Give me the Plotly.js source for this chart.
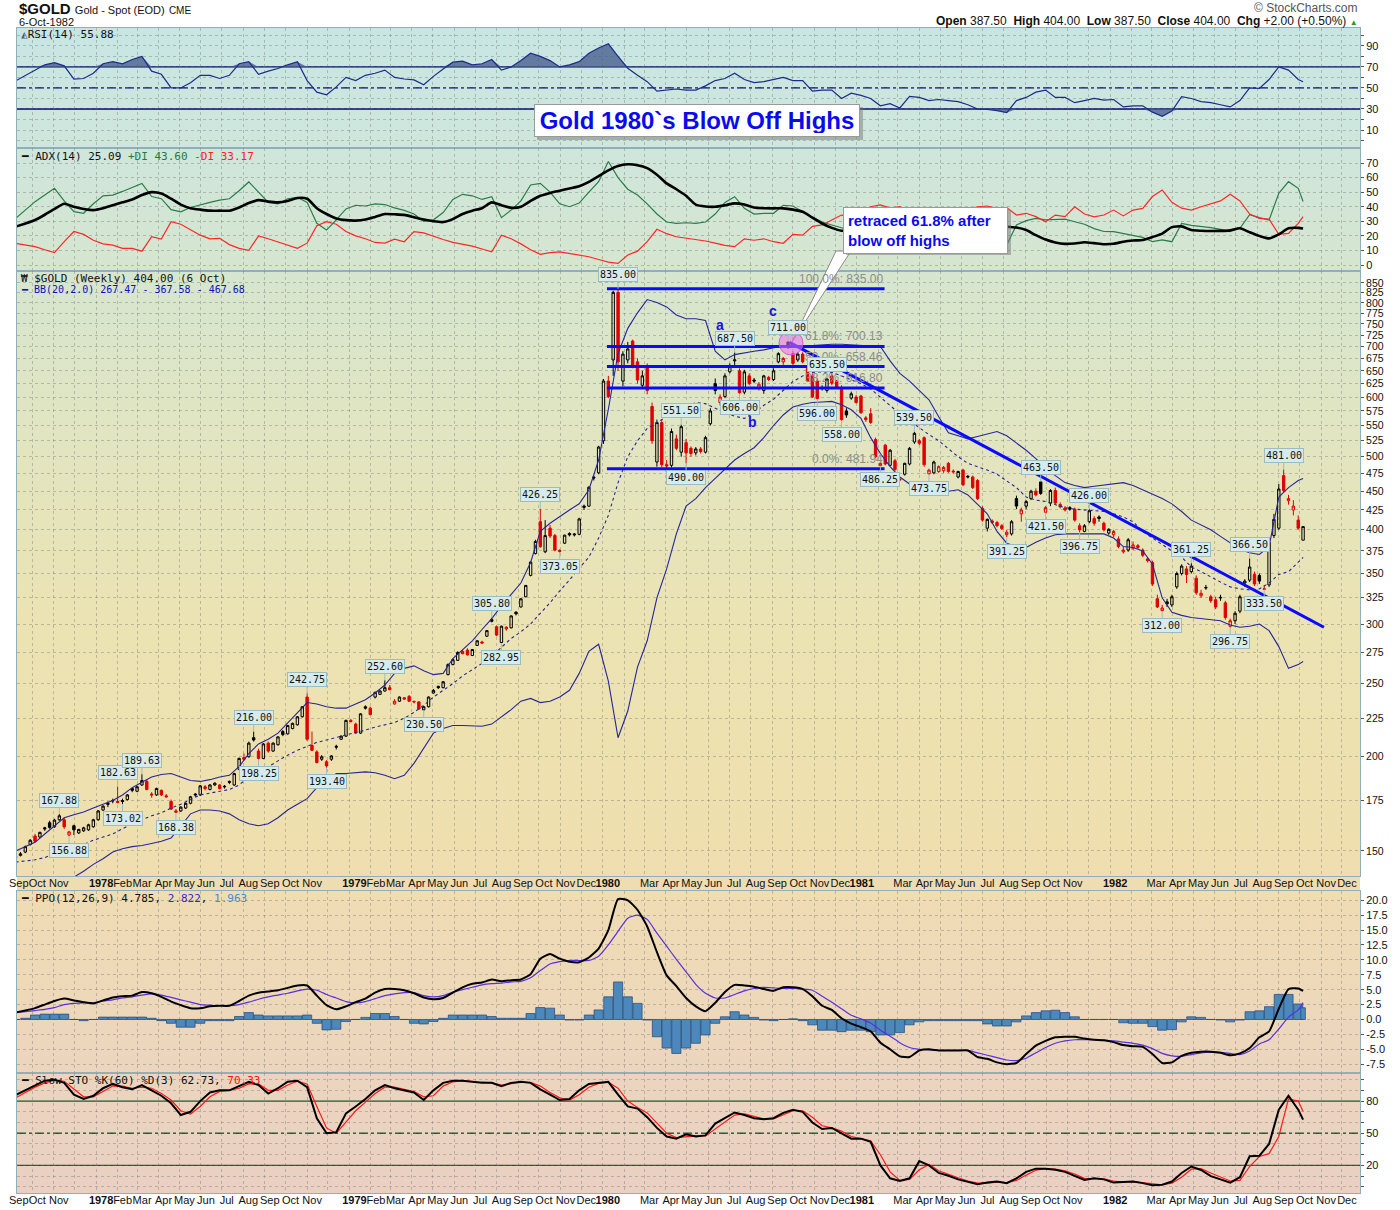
<!DOCTYPE html>
<html><head><meta charset="utf-8">
<script src="https://cdn.plot.ly/plotly-3.0.1.min.js"></script>
<style>
body{margin:0;background:#fff;}
#wrap{position:relative;width:1400px;height:1210px;overflow:hidden;}
#bg{position:absolute;left:17px;top:28px;width:1343px;height:1165px;
background:linear-gradient(to bottom,#c7e6e3 0%,#cfe6dc 10.3%,#d6e6cf 20.9%,#e2e5c0 36%,#ece3b2 52%,#efdfae 70%,#efdcb4 75.3%,#ecd5be 89.6%,#e9d0c3 100%);}
#chart{position:absolute;left:0;top:0;width:1400px;height:1210px;}
</style></head><body>
<div id="wrap"><div id="bg"></div><div id="chart"></div></div>
<script>
// ---------- weekly candles [open, high, low, close], first bar week of 1977-09-07 ----------
const ohlc1977 = [
[147.0,148.5,146.5,147.5],[148.0,149.5,147.5,148.7],[149.5,152.5,149.0,152.0],[153.0,155.5,152.5,155.0],
[157.0,158.0,154.0,154.5],[156.5,159.0,156.0,158.8],[161.0,161.5,159.5,160.5],[163.5,164.5,160.5,161.2],
[161.5,165.5,161.0,164.8],[165.0,167.88,164.5,167.0],[165.0,166.0,160.5,161.5],[157.5,159.5,156.88,159.0],
[162.0,162.5,157.5,160.0],[158.5,160.5,158.0,160.2],[159.5,161.5,159.0,161.0],[160.0,163.0,159.5,162.5],
[161.5,165.5,161.0,165.0]];
const ohlc1978 = [
[165.0,170.0,164.5,169.5],[170.0,172.5,169.5,172.0],[173.5,174.5,171.5,173.0],[175.0,176.0,173.5,174.8],
[174.5,182.63,173.5,174.0],[175.0,176.0,173.02,174.5],[175.5,178.5,175.0,178.0],[181.5,182.0,179.5,180.5],
[180.0,183.0,179.5,182.5],[183.5,189.63,183.0,186.0],[185.5,186.5,180.5,181.0],[178.5,179.5,176.5,178.0],
[178.0,182.0,177.5,181.5],[180.5,181.0,177.5,178.0],[177.5,178.5,176.5,177.0],[174.5,175.5,170.0,170.5],
[168.8,170.5,168.38,169.5],[169.5,172.0,169.0,171.5],[171.0,174.0,170.5,173.5],[173.5,177.5,173.0,177.0],
[178.5,179.0,177.0,178.0],[178.0,183.5,177.5,183.0],[182.5,183.5,180.5,181.5],[181.0,184.0,180.5,183.5],
[183.5,185.0,183.0,184.5],[183.5,184.0,181.0,181.5],[182.8,183.5,181.5,182.5],[185.5,186.0,184.0,185.0],
[183.5,190.5,183.0,190.0],[192.5,199.5,192.0,199.0],[199.5,202.0,197.5,198.5],[200.0,209.5,199.5,208.5],
[212.0,216.0,209.5,210.5],[203.5,205.0,198.25,199.0],[199.0,208.5,198.5,208.0],[208.5,209.5,202.5,203.5],
[203.5,209.0,203.0,208.5],[207.5,213.0,207.0,212.5],[216.0,217.0,213.0,214.0],[214.5,220.5,214.0,220.0],
[218.0,222.0,217.5,221.5],[220.5,226.5,220.0,226.0],[226.0,233.5,225.5,233.0],[240.0,242.75,210.0,211.0],
[207.0,216.0,203.5,204.0],[203.0,204.0,196.0,196.5],[198.5,201.0,197.5,200.0],[197.0,198.0,193.40,194.5],
[198.5,201.0,197.5,200.5],[206.5,207.5,204.5,206.0],[211.0,213.5,210.5,213.0],[213.0,224.0,212.5,223.5]];
const ohlc1979 = [
[223.5,224.5,222.0,222.8],[221.0,222.0,214.5,215.0],[215.0,228.5,214.5,228.0],[233.0,234.0,231.0,232.0],
[232.0,233.0,227.0,227.5],[240.0,244.0,239.0,243.5],[242.0,245.0,241.5,244.5],[244.5,252.60,244.0,247.0],
[247.0,249.0,245.0,245.5],[235.0,238.5,234.5,237.0],[237.0,240.5,236.5,240.0],[239.5,240.0,238.0,238.5],
[240.5,241.5,236.5,237.0],[236.8,237.5,235.5,236.5],[236.5,237.0,231.0,231.5],[230.8,233.5,230.50,233.0],
[233.0,240.5,232.5,240.0],[243.0,246.0,242.5,245.0],[248.0,248.5,246.0,247.0],[247.0,252.0,246.5,251.5],
[257.0,266.0,256.5,265.0],[265.0,270.0,264.5,269.0],[268.5,276.0,268.0,275.0],[276.0,277.0,273.5,274.0],
[277.0,278.5,272.5,273.0],[272.5,278.0,272.0,277.5],[281.0,285.5,280.5,285.0],[284.0,285.0,282.5,283.0],
[289.0,294.5,288.5,294.0],[304.0,305.80,301.5,302.5],[297.5,298.5,289.0,290.0],[283.5,298.5,282.95,298.0],
[295.5,298.0,294.0,297.0],[296.5,308.0,296.0,307.5],[311.0,312.0,308.0,309.5],[316.0,324.5,315.5,324.0],
[326.0,338.0,325.5,337.5],[348.0,363.0,347.0,362.5],[372.0,388.0,371.0,386.0],[410.0,426.25,378.5,380.0],
[374.0,412.0,372.5,393.0],[402.0,406.0,390.0,392.5],[393.0,395.0,374.5,376.0],[375.5,377.0,373.05,374.5],
[384.0,394.0,383.0,393.5],[395.5,397.0,392.0,393.8],[395.0,396.0,392.0,394.0],[394.5,415.0,393.5,413.5],
[430.0,432.0,425.0,428.5],[430.0,457.0,429.0,455.5],[470.0,472.0,465.0,468.5],[476.0,517.0,474.0,515.0]];
const ohlc1980 = [
[525.0,634.0,520.0,630.0],[630.0,640.0,598.0,601.0],[672.0,830.0,640.0,826.0],[826.0,835.0,650.0,668.0],
[630.0,690.0,620.0,684.0],[672.0,710.0,665.0,695.0],[712.0,715.0,655.0,660.0],[668.0,675.0,625.0,632.0],
[622.0,650.0,615.0,640.0],[658.0,665.0,605.0,612.0],[583.0,590.0,520.0,525.0],[492.0,560.0,485.0,555.0],
[555.0,560.0,484.0,488.0],[488.0,495.0,482.0,486.0],[487.0,545.0,484.0,540.0],[528.0,535.0,510.0,513.0],
[507.0,551.50,500.0,548.0],[522.0,528.0,490.0,506.0],[513.0,516.0,500.0,505.0],[506.0,515.0,502.0,512.0],
[512.0,515.0,505.0,508.0],[507.0,533.0,505.0,530.0],[553.0,580.0,550.0,575.0],[625.0,635.0,605.0,612.0],
[590.0,605.0,585.0,600.0],[601.0,645.0,598.0,640.0],[648.0,665.0,645.0,660.0],[670.0,687.50,660.0,672.0],
[650.0,655.0,606.0,608.0],[609.0,652.0,605.0,648.0],[640.0,645.0,622.0,625.0],[632.0,636.0,626.0,630.0],
[618.0,628.0,612.0,624.0],[612.0,642.0,606.0,640.0],[637.0,640.0,630.0,633.0],[633.0,655.0,630.0,650.0],
[668.0,688.0,665.0,685.0],[668.0,678.0,662.0,675.0],[710.0,711.0,695.0,703.0],[685.0,690.0,660.0,665.0],
[672.0,688.0,668.0,684.0],[684.0,688.0,665.0,668.0],[655.0,658.0,628.0,630.0],[640.0,645.0,598.0,600.0],
[630.0,635.0,596.0,597.0],[616.0,622.0,612.0,617.0],[612.0,635.50,608.0,634.0],[640.0,645.0,622.0,626.0],
[630.0,632.0,615.0,618.0],[618.0,622.0,558.0,560.0],[575.0,580.0,563.0,568.0],[598.0,610.0,595.0,606.0],
[600.0,604.0,588.0,590.0]];
const ohlc1981 = [
[602.0,604.0,570.0,572.0],[563.0,566.0,556.0,560.0],[570.0,580.0,553.0,555.0],[527.0,530.0,498.0,500.0],
[486.5,492.0,486.25,490.0],[518.0,520.0,487.0,489.0],[487.0,512.0,487.0,510.0],[494.0,497.0,479.0,481.0],
[467.0,469.0,464.0,466.0],[474.0,491.0,472.0,490.0],[489.0,515.0,487.0,513.0],[523.0,539.50,520.0,537.0],
[525.0,528.0,518.0,521.0],[530.0,532.0,485.0,488.0],[474.5,482.0,473.75,480.0],[476.0,494.0,474.0,492.0],
[478.0,487.0,476.0,485.0],[479.0,486.0,476.0,484.0],[490.0,492.0,476.0,478.0],[478.5,481.0,475.0,477.5],
[470.0,479.0,468.0,478.0],[480.0,482.0,457.0,459.0],[471.0,473.0,468.0,470.0],[470.0,472.0,453.0,455.0],
[465.0,467.0,438.0,440.0],[427.0,430.0,410.0,412.0],[402.0,414.0,398.0,413.0],[411.0,413.0,407.0,409.0],
[409.0,411.0,403.0,405.0],[405.0,407.0,400.0,401.5],[394.0,400.0,391.25,397.0],[395.0,412.0,393.0,410.0],
[440.0,444.0,426.0,430.0],[420.0,428.0,410.0,425.0],[430.0,438.0,426.0,436.0],[440.0,452.0,438.0,450.0],
[450.0,454.0,443.0,445.0],[463.0,463.50,445.0,447.0],[422.0,430.0,421.50,428.0],[434.0,453.0,430.0,451.0],
[451.0,455.0,432.0,434.0],[432.0,435.0,427.0,429.0],[427.5,430.0,423.0,425.0],[428.0,430.0,424.0,426.0],
[426.0,428.0,410.0,412.0],[405.0,408.0,396.75,400.0],[398.0,407.0,397.0,405.0],[410.0,426.0,408.0,424.0],
[414.0,417.0,405.0,408.0],[416.0,418.0,410.0,414.0],[408.0,410.0,398.0,400.0],[396.0,402.0,394.0,400.5]];
const ohlc1982 = [
[394.0,400.0,391.0,398.0],[389.0,392.0,378.0,380.0],[374.0,380.0,372.0,376.0],[376.0,390.0,374.0,388.0],
[378.0,386.0,376.0,382.0],[381.0,383.0,377.0,379.0],[376.0,378.0,368.0,370.0],[366.0,368.0,362.0,364.0],
[362.0,364.0,337.0,339.0],[324.0,328.0,315.0,316.0],[312.5,318.0,312.0,315.0],[321.0,324.0,316.0,319.0],
[318.0,328.0,316.0,326.0],[336.0,352.0,334.0,350.0],[350.0,360.0,348.0,358.0],[355.0,358.0,340.0,349.0],
[352.0,361.25,350.0,358.0],[345.0,348.0,328.0,330.0],[327.0,333.0,325.0,329.5],[335.5,338.0,333.0,335.0],
[326.0,328.0,320.0,322.0],[323.0,326.0,314.0,316.0],[325.5,328.0,322.0,325.0],[320.0,322.0,304.0,306.0],
[298.0,305.0,296.75,303.0],[303.0,312.0,300.0,310.0],[312.0,328.0,310.0,326.0],[340.0,344.0,336.0,342.0],
[343.0,366.50,341.0,357.0],[349.0,352.0,337.0,339.0],[348.0,350.0,339.0,342.0],[333.5,338.0,333.5,334.0],
[338.0,390.0,336.0,385.0],[393.0,420.0,390.0,413.0],[402.0,460.0,400.0,453.0],[472.0,481.0,449.0,451.0],
[437.0,445.0,432.0,440.0],[425.0,438.0,418.0,430.0],[412.0,418.0,400.0,402.0],[387.5,404.0,387.5,404.0]];

// ---------- indicators, read every 2nd week (weeks 0,2,...,264) plus the last week 265 ----------
const bbUpper = [150,152,154,158,162,166,167.5,169,171,173,
175,178,182,185,188,189.5,190,188,186,185.5,
186.5,188,189,194,202,208,211,215,222,229,
236,235,233,232,232,235,238,243,249,258,
262,264,260,257,258,270,277,285,295,305,
317,328,340,362,398,408,417,425,433,452,
495,578,685,740,776,808,801,790,771,762,
762,758,690,672,683,687,690,693,697,702,
701,700,702,704,705,705,704,702,701,700,
670,645,630,612,595,565,538,533,528,532,
536,540,533,522,510,497,483,472,462,458,
455,457,459,461,462,458,452,446,440,433,
423,412,406,400,392,384,377,373,371,380,
442,455,465,467.68];
const bbMiddle = [145,145.5,146,147,149,150.5,151.5,153,155,156.5,
158,160.5,163,165,167,168.5,171,173,175.5,178,
179,179.8,181,183.5,188,191.5,194,197.5,201,204,
206.5,209,210.5,212,213.5,215,217,219,220.5,222,
225,229,234,240,245,250,256,261,266,272,
279,287,293,300,310,320,332,343,356,368,
390,418,462,500,525,545,555,565,575,583,
590,588,580,572,566,562,572,585,596,612,
629,640,647,648,647,640,632,625,615,600,
585,570,558,546,535,525,512,500,490,485,
480,474,464,455,442,438,436,432,428,426,
425,424,423,420,416,410,398,390,382,375,
368,357,352,346,341,336,334,333,334,340,
349,352,363,367.58];
const bbLower = [130,131,132,133,134.5,136,138.5,141,144,146.5,
149.5,151,152,152.5,153.5,154.5,156,162,168,170,
170,169.5,168,165,163,162,163,166,170,173,
176,182,186,190,190,190.5,191,190.5,189,187,
189,196,205,215,218,220,220,220,219.5,221,
226,231,237,239,236,237,240,245,258,276,
282,252,212,230,263,285,325,355,395,430,
440,455,468,482,495,505,514,530,550,568,
582,587,590,591,592,586,577,562,530,505,
485,470,460,452,448,448,450,452,445,432,
420,398,384,380,379,385,390,394,395,395,
395,395,395,390,380,379,375,360,325,311,
308,306,305,304,303,299,297,298,300,294,
280,262,265,267.47];
const rsi14 = [56.7,62,67,72,74,71,58.5,59,64,73,
75,73,77,80,66,63,50,50,55,62,
62,59,62,73,75,63,66,68.5,72,75,
57,46,43.5,51,60,57,62,64,67,60,
58.5,57.6,53,61,68,74.5,75.5,72,73,77,
67,70,76,83,80,76,70,72,75,83,
88,92,80,68.7,62,56,47,48,49,48,
48,52,57,59,64,58,55,56,58,60,
57,57,47,48,48,40,45,43,40,33,
35,31,42,41,38,39,38,37,34,30,
29.5,28.5,26.5,38,41,46,48,41,41,36,
38,40,38.5,39,32,33,33,27,23,28,
41.7,40,37,36,34,32,38,50,49.5,58,
70,67,58,55.88];
const adx14 = [26.3,28.5,30.9,34.5,38.5,42,40,38.5,37.7,39,
41,43,45,48,50,49,45.5,41.5,39,38,
37.3,37.3,37.3,39.5,42.5,44.5,43.5,43,44,46,
45.5,39,35,32,30.8,30.5,31.2,33,35,34.8,
34.4,32.8,31.2,30,29.5,31.5,35,37.3,39,43,
41,39.3,40,44,47.5,49.5,51,52.5,54,57,
61,65,68,69.1,68.5,66.5,62,56,52,47.5,
41.5,40.2,40,41,42.3,41.5,39.5,39,38.9,38.9,
38,36.5,32.5,28.5,25.5,23.5,23.5,24,25.5,27,
28,28.5,28.5,28,27.5,27.5,27,27,27,26.8,
26.6,26.5,26.3,25.7,24,20.5,17.5,15.5,14.5,14.8,
15.6,15,14.3,14.6,16,16.8,17.2,19.2,21.5,26,
26.5,24,23.5,23.3,23.4,23.8,25.2,22.5,20,18.3,
21,25.2,25.5,25.09];
const plusDI = [32,38,43.5,48,52.6,44,36.6,35.5,42,47.5,
48,50.5,53.5,56,47,45.5,38,36.5,39.5,41.5,
43,44.5,45.5,51,57,50,43,42,45.5,46.5,
43,28.6,24,31,38.5,41,40.5,42,41.5,39.2,
37.5,35,30,31,36,45,48.5,47.5,45,46.9,
32.5,37.7,44,54.9,56,50,42,40,42.5,50,
57.2,71,60,52,48,42,35,29.5,28.6,29,
28.6,29.5,35,43,46.9,38.9,35,35.5,35.5,41,
40.5,36.6,33,29.5,27.5,25.6,24,22,20,18,
19,17.5,22,21,20,19.5,20,19,17.5,16,
15.5,14.5,13.7,27.5,30.5,32,31,31,31.5,29.7,
28,25,23,22.9,21.5,20,19,16,17.2,16,
28.5,27.2,26.5,25.7,24.5,22.9,25.2,34.5,32.5,30.9,
49.2,57.2,52.6,43.6];
const minusDI = [14.9,13.8,12.6,10.5,8.5,16,23,21,17,14.5,
13.7,11.4,11.4,9.5,19.4,17.8,29.7,28,24,20.5,
18,18.3,14,11.4,10,20,18,16,13.7,11.5,
15,27,29.7,28,23,20,18,15.5,15,17.8,
16,22.9,22,19.5,17.5,15.5,14.2,13,11,9.1,
20.5,18,14.5,10.5,7.3,8.5,9,8,7,5.7,
3.8,2.0,1.1,6.9,9.5,16,24.5,21.5,19.4,18.5,
17.8,16.5,15,13.5,12.6,18,17,18,16,14.9,
21,20.5,26.5,27.5,30.9,34.3,33.2,36,40,41.2,
39,40,35,33,36,35,37,36,38,40,
40.5,38.9,39.4,34.3,35.5,33.2,29.7,34.3,33.2,40,
35,33,34.3,37.7,33.7,37.7,38.9,47,51.5,43,
39,37.7,40,42,44,48.5,44,35,32,31.5,
21,21.7,28.6,33.17];
const ppoLine = [1.15,1.5,1.9,2.5,3.1,3.5,3.2,2.9,2.7,3.2,
3.7,3.9,4.0,4.6,4.4,3.8,3.0,2.4,1.9,1.9,
2.2,2.3,2.3,3.1,4.0,4.5,4.7,4.9,5.3,5.7,
5.7,4.0,2.4,1.7,2.2,2.9,3.5,4.5,5.1,5.1,
4.9,4.4,3.7,3.4,3.6,4.5,5.4,6.0,6.2,6.7,
6.4,6.6,6.7,7.6,10.2,11.0,10.2,9.7,9.6,10.4,
11.9,15.0,20.2,20.0,18.4,15.6,11.3,7.4,5.6,3.6,
2.2,1.4,2.8,4.6,5.8,5.7,5.5,5.1,4.8,5.4,
5.4,5.1,3.9,2.3,1.6,0.2,-0.7,-1.3,-2.0,-3.9,
-5.0,-6.2,-6.3,-5.2,-5.0,-5.2,-5.2,-5.2,-5.2,-6.3,
-6.6,-7.2,-7.5,-7.3,-5.8,-4.4,-3.6,-3.0,-2.9,-2.9,
-3.2,-3.4,-3.5,-3.8,-4.3,-4.5,-4.6,-5.8,-7.3,-7.2,
-6.1,-5.6,-5.4,-5.4,-5.6,-6.0,-5.7,-4.8,-3.0,-2.0,
1.8,5.1,5.2,4.785];
const ppoSignal = [1.15,1.3,1.5,1.7,2.0,2.5,2.7,2.8,2.8,3.1,
3.3,3.6,3.8,4.1,4.3,4.1,3.7,3.3,2.9,2.5,
2.4,2.3,2.3,2.5,2.9,3.4,3.8,4.1,4.4,4.8,
5.1,4.9,4.2,3.6,3.0,2.8,3.0,3.5,4.0,4.3,
4.5,4.5,4.0,3.8,4.0,4.6,5.0,5.4,5.8,6.0,
6.1,6.3,6.4,7.0,8.2,9.3,9.7,9.9,9.9,9.9,
10.6,12.5,14.8,17.0,17.5,16.8,14.5,12.3,10.1,8.0,
5.9,4.4,3.6,3.6,4.2,4.8,5.2,5.4,5.3,5.2,
5.2,5.1,4.9,3.9,2.9,1.8,0.7,0.1,-0.6,-1.8,
-2.8,-3.9,-4.7,-5.0,-5.1,-5.2,-5.2,-5.2,-5.2,-5.6,
-6.0,-6.4,-6.8,-6.9,-6.5,-5.6,-4.7,-4.0,-3.6,-3.4,
-3.4,-3.4,-3.5,-3.6,-3.8,-4.0,-4.3,-4.9,-5.7,-6.1,
-6.2,-5.9,-5.6,-5.5,-5.5,-5.7,-5.9,-5.3,-4.1,-3.4,
-1.6,0.4,1.6,2.822];
const ppoHist = [0,0.2,0.75,0.9,0.9,0.9,0,-0.2,0,0.4,
0.4,0.4,0.4,0.4,0.2,-0.2,-0.65,-1.3,-1.3,-0.65,
-0.2,-0.2,-0.2,0.5,1.15,0.75,0.6,0.6,0.6,0.6,
0.75,-0.65,-1.75,-1.65,-0.35,0,0.35,1.0,1.0,0.5,
0,-0.65,-0.75,-0.35,0.2,0.75,0.75,0.75,0.75,0.5,
0.2,0.2,0.2,1.0,2.0,1.9,0.75,-0.1,-0.1,0.75,
1.6,3.8,6.3,3.8,2.7,-0.1,-2.9,-4.8,-5.7,-4.8,
-4.0,-2.6,-0.65,0.45,1.3,0.75,0.35,-0.1,-0.2,0,
0.1,-0.2,-0.9,-1.8,-1.8,-2.05,-1.8,-1.8,-2.05,-2.6,
-2.6,-2.2,-0.9,-0.4,-0.2,-0.2,-0.2,-0.2,-0.2,-0.2,
-0.75,-1.1,-1.1,-0.4,0.6,1.15,1.45,1.55,1.15,0.45,
0,0,0,0,-0.55,-0.65,-0.65,-1.2,-1.8,-1.7,
-0.4,0.45,0.35,0,-0.1,-0.4,-0.1,1.3,1.45,2.15,
4.2,4.2,2.6,1.963];
const stoK = [85.7,90,95,99,100,97,86,82,85,92,
96,93,91,95,90,85,78,67,70,80,
88,90,90,94,98,95,87,92,98,99,
93,64,50,51,68.6,75,82,90,95,92,
90,88,81,90,97,99,99,98,97,97,
94,97,98,97,91,86,81,82,90,96,
97,98,86,75,73,65,55,47,45,49,
47,48,59,64,69.4,67,64,63,64,69,
72,70,60,54,55,50,45,45,42,20,
8,5.5,8,24,20,13,10.4,7,4.5,2.5,
4,5,3.5,8,14,17,17,16,14,10,
6.5,8,7,4,4.5,5,3.5,1.5,2,5,
13,19,15.8,10,7,4,9,28.5,29,40,
72,85,72,62.73];
const stoD = [83,88,93,97,99.5,98.5,91,84,84,89,
94,94,92,93,92,87,81,71,68,75,
84,89,90,92,96,96,90,90,95,98.5,
96,75,55,50,60,71,79,87,93,93,
91,89,84,85,94,98,99,98.5,97.5,97,
95,96,97.5,97.5,94,88,83,81,86,93,
96.5,97.5,92,80,74,69,59,50,46,47,
47.5,47.5,54,61,67,68,65.5,63.5,63.5,67,
71,71,65,57,55,52,47,45,43,30,
14,6,7,16,21,15,11.5,8.5,5.5,3.5,
3.5,4.5,4,6,11,15.5,17,16.5,15,12,
8,7.5,7.5,5.5,4.5,5,4,2.5,2,3.5,
9,16.5,17,13,9,5.5,6,19,28.3,31,
47,82,80,70.33];

// ---------- chart annotations data ----------
const priceLabels = [[9,167.88,'h'],[11,156.88,'l'],[21,182.63,'h'],[22,173.02,'l'],[26,189.63,'h'],[33,168.38,'l'],
[49,216.00,'h'],[50,198.25,'l'],[60,242.75,'h'],[64,193.40,'l'],[76,252.60,'h'],[84,230.50,'l'],
[98,305.80,'h'],[100,282.95,'l'],[108,426.25,'h'],[112,373.05,'l'],[124,835.00,'h'],[138,490.00,'l'],
[137,551.50,'h'],[148,687.50,'h'],[149,606.00,'l'],[159,711.00,'h'],[167,635.50,'h'],[165,596.00,'l'],
[170,558.00,'l'],[185,539.50,'h'],[178,486.25,'l'],[188,473.75,'l'],[211,463.50,'h'],[204,391.25,'l'],
[212,421.50,'l'],[221,426.00,'h'],[219,396.75,'l'],[242,361.25,'h'],[236,312.00,'l'],[250,296.75,'l'],
[254,366.50,'h'],[257,333.50,'l'],[261,481.00,'h']];
const fibLevels = [835.00, 700.13, 658.46, 616.80, 481.94];
const fibNames = ['100.0%','61.8%','50.0%','38.2%','0.0%'];
const fibSpan = ['1980-01-07','1981-02-10'];
const trendDates = ['1980-09-26','1982-11-05'];
const trendPrices = [709, 297];
const monthNames = ['Jan','Feb','Mar','Apr','May','Jun','Jul','Aug','Sep','Oct','Nov','Dec'];
const unlabeledMonths = ['1977-12','1978-12','1980-02','1981-02','1981-12','1982-02'];
const priceTicks = [150,175,200,225,250,275,300,325,350,375,400,425,450,475,500,525,550,575,600,625,650,675,700,725,750,775,800,825,850];
const ppoTicks = [-7.5,-5,-2.5,0,2.5,5,7.5,10,12.5,15,17.5,20];

// ---------- helpers ----------
const W0 = Date.UTC(1977,8,7), DAY = 864e5;
const wd = w => new Date(W0 + w*7*DAY).toISOString().slice(0,10);
const PL=17, PT=28, PW=1343, PH=1165;
const px = x => (x-PL)/PW;
const py = y => (PT+PH-y)/PH;

const ohlc = [].concat(ohlc1977, ohlc1978, ohlc1979, ohlc1980, ohlc1981, ohlc1982);
const blk = {x:[],o:[],h:[],l:[],c:[]}, red = {x:[],o:[],h:[],l:[],c:[]};
ohlc.forEach((b,i)=>{
  const prev = i>0 ? ohlc[i-1][3] : b[0];
  const t = b[3] < prev ? red : blk;
  t.x.push(wd(i)); t.o.push(b[0]); t.h.push(b[1]); t.l.push(b[2]); t.c.push(b[3]);
});
const indWeeks = []; for(let w=0; w<=264; w+=2) indWeeks.push(w); indWeeks.push(265);
const indDates = indWeeks.map(wd);

const data = [];
// RSI panel
data.push({x:indDates, y:indDates.map(()=>70), mode:'lines', line:{width:0, color:'rgba(0,0,0,0)'}, xaxis:'x', yaxis:'y', hoverinfo:'skip'});
data.push({x:indDates, y:rsi14.map(v=>Math.max(v,70)), mode:'lines', fill:'tonexty', fillcolor:'rgba(70,92,140,0.78)', line:{width:0, color:'rgba(0,0,0,0)'}, xaxis:'x', yaxis:'y', hoverinfo:'skip'});
data.push({x:indDates, y:indDates.map(()=>30), mode:'lines', line:{width:0, color:'rgba(0,0,0,0)'}, xaxis:'x', yaxis:'y', hoverinfo:'skip'});
data.push({x:indDates, y:rsi14.map(v=>Math.min(v,30)), mode:'lines', fill:'tonexty', fillcolor:'rgba(70,92,140,0.78)', line:{width:0, color:'rgba(0,0,0,0)'}, xaxis:'x', yaxis:'y', hoverinfo:'skip'});
data.push({x:indDates, y:rsi14, mode:'lines', line:{color:'#1c2a8a', width:1.2}, xaxis:'x', yaxis:'y'});
// ADX panel
data.push({x:indDates, y:plusDI, mode:'lines', line:{color:'#2a7d48', width:1.2}, xaxis:'x2', yaxis:'y2'});
data.push({x:indDates, y:minusDI, mode:'lines', line:{color:'#ff2626', width:1.2}, xaxis:'x2', yaxis:'y2'});
data.push({x:indDates, y:adx14, mode:'lines', line:{color:'#000', width:2.6, shape:'spline', smoothing:0.6}, xaxis:'x2', yaxis:'y2'});
// Main panel
data.push({x:indDates, y:bbUpper, mode:'lines', line:{color:'#25259a', width:1.1}, xaxis:'x3', yaxis:'y3'});
data.push({x:indDates, y:bbLower, mode:'lines', line:{color:'#25259a', width:1.1}, xaxis:'x3', yaxis:'y3'});
data.push({x:indDates, y:bbMiddle, mode:'lines', line:{color:'#25259a', width:1.1, dash:'dot'}, xaxis:'x3', yaxis:'y3'});
data.push({type:'candlestick', x:blk.x, open:blk.o, high:blk.h, low:blk.l, close:blk.c, xaxis:'x3', yaxis:'y3', whiskerwidth:0,
  increasing:{line:{color:'#000', width:1}, fillcolor:'rgba(0,0,0,0)'}, decreasing:{line:{color:'#000', width:1}, fillcolor:'#000'}, hoverinfo:'skip'});
data.push({type:'candlestick', x:red.x, open:red.o, high:red.h, low:red.l, close:red.c, xaxis:'x3', yaxis:'y3', whiskerwidth:0,
  increasing:{line:{color:'#e00000', width:1}, fillcolor:'rgba(0,0,0,0)'}, decreasing:{line:{color:'#e00000', width:1}, fillcolor:'#e00000'}, hoverinfo:'skip'});
fibLevels.forEach(v=>{
  data.push({x:fibSpan, y:[v,v], mode:'lines', line:{color:'#0a0aff', width:3}, xaxis:'x3', yaxis:'y3'});
});
data.push({x:trendDates, y:trendPrices, mode:'lines', line:{color:'#0a0aff', width:3}, xaxis:'x3', yaxis:'y3'});
// PPO panel
data.push({type:'bar', x:indDates, y:ppoHist, width:indDates.map((d,i)=> i<133 ? 13.2*DAY : 6.6*DAY),
  marker:{color:'#4d88bd', line:{color:'#1f4575', width:0.7}}, xaxis:'x4', yaxis:'y4'});
data.push({x:indDates, y:ppoSignal, mode:'lines', line:{color:'#5a2fe0', width:1.2, shape:'spline', smoothing:0.5}, xaxis:'x4', yaxis:'y4'});
data.push({x:indDates, y:ppoLine, mode:'lines', line:{color:'#000', width:2, shape:'spline', smoothing:0.5}, xaxis:'x4', yaxis:'y4'});
// STO panel
data.push({x:indDates, y:stoD, mode:'lines', line:{color:'#ff1a1a', width:1.2}, xaxis:'x5', yaxis:'y5'});
data.push({x:indDates, y:stoK, mode:'lines', line:{color:'#000', width:2}, xaxis:'x5', yaxis:'y5'});

// ---------- x ticks (month grid, labels a little right of month start) ----------
const tickvals = [], ticktext = [];
for(let y=1977; y<=1982; y++){
  for(let m=0; m<12; m++){
    if(y===1977 && m<9) continue;
    const key = y+'-'+String(m+1).padStart(2,'0');
    tickvals.push(key+'-01');
    if(unlabeledMonths.includes(key)) ticktext.push('');
    else ticktext.push(m===0 ? '<b>'+y+'</b>' : monthNames[m]);
  }
}
const GRID = 'rgba(110,110,110,0.38)', BORDER = '#8fb0b8';
const narrow = 'Liberation Sans Narrow, Liberation Sans, Arial';
function xa(anchor, labels){
  return {anchor:anchor, domain:[0,1], type:'date', range:['1977-09-09','1982-12-27'],
    tickmode:'array', tickvals:tickvals, ticktext:ticktext, showticklabels:labels, ticks:'', tickangle:0,
    ticklabelshift:5, ticklabelstandoff:-3, tickfont:{family:narrow, size:11, color:'#111'},
    showgrid:true, gridcolor:GRID, griddash:'dot', gridwidth:1,
    showline:true, mirror:true, linecolor:BORDER, linewidth:1, zeroline:false, fixedrange:true};
}
function ya(anchor, dom, range, tv, tt, extra){
  return Object.assign({anchor:anchor, domain:dom, range:range, side:'right', tickmode:'array', tickvals:tv, ticktext:tt,
    ticks:'outside', ticklen:3, tickcolor:'#555', tickfont:{family:'Liberation Sans, Arial', size:11, color:'#111'},
    showgrid:true, gridcolor:GRID, griddash:'dot', gridwidth:1,
    showline:true, mirror:true, linecolor:BORDER, linewidth:1, zeroline:false, fixedrange:true}, extra||{});
}
const tens = [0,10,20,30,40,50,60,70,80,90,100];
const layout = {
  width:1400, height:1210, margin:{l:PL, r:40, t:PT, b:17},
  paper_bgcolor:'rgba(0,0,0,0)', plot_bgcolor:'rgba(0,0,0,0)',
  showlegend:false, hovermode:false, bargap:0,
  font:{family:'Liberation Sans, Arial, sans-serif', size:11, color:'#111'},
  xaxis: xa('y', false), xaxis2: xa('y2', false),
  xaxis3: Object.assign(xa('y3', true), {rangeslider:{visible:false}}),
  xaxis4: xa('y4', false), xaxis5: xa('y5', true),
  yaxis: ya('x', [py(148),1], [-7.1,107], tens, tens.map(v=> v%20===10 ? String(v) : '')),
  yaxis2: ya('x2', [py(271),py(148)], [-4.1,80.3], tens.slice(0,8), tens.slice(0,8).map(String)),
  yaxis3: ya('x3', [py(876),py(271)], [2.1429,2.9453], priceTicks, priceTicks.map(String), {type:'log', tickfont:{family:'Liberation Sans, Arial', size:10.5, color:'#111'}}),
  yaxis4: ya('x4', [py(1072.5),py(891)], [-8.9,21.56], ppoTicks, ppoTicks.map(v=>v.toFixed(1))),
  yaxis5: ya('x5', [0,py(1073)], [-5.7,106.2], tens, tens.map(v=> (v===20||v===50||v===80) ? String(v) : '')),
  shapes: [], annotations: []
};
const S = layout.shapes, A = layout.annotations;
// reference levels
[[70,'solid'],[30,'solid'],[50,'dashdot']].forEach(([v,d])=>S.push({type:'line', xref:'x domain', yref:'y', x0:0, x1:1, y0:v, y1:v, line:{color:'#00006e', width:1.3, dash:d}, layer:'below'}));
[[80,'solid'],[20,'solid'],[50,'dashdot']].forEach(([v,d])=>S.push({type:'line', xref:'x5 domain', yref:'y5', x0:0, x1:1, y0:v, y1:v, line:{color:'#1d5a2a', width:1.3, dash:d}, layer:'below'}));
// callout tail, highlight circle, shadows
S.push({type:'path', xref:'paper', yref:'paper', path:`M ${px(836)} ${py(251)} L ${px(792)} ${py(342)} L ${px(851)} ${py(251)} Z`, fillcolor:'#ffffff', line:{color:'#8a8a8a', width:1}, layer:'above'});
S.push({type:'circle', xref:'paper', yref:'paper', x0:px(779), x1:px(803), y0:py(355), y1:py(331), fillcolor:'rgba(236,110,236,0.55)', line:{color:'rgba(215,70,215,0.85)', width:1}, layer:'above'});
S.push({type:'rect', xref:'paper', yref:'paper', x0:px(537), x1:px(863), y0:py(140), y1:py(107), fillcolor:'rgba(120,120,120,0.5)', line:{width:0}, layer:'above'});
S.push({type:'rect', xref:'paper', yref:'paper', x0:px(846), x1:px(1011), y0:py(255), y1:py(210), fillcolor:'rgba(120,120,120,0.5)', line:{width:0}, layer:'above'});

const mono = 'DejaVu Sans Mono, monospace';
function note(x, y, text, o){
  A.push(Object.assign({xref:'paper', yref:'paper', x:px(x), y:py(y), text:text, showarrow:false, xanchor:'left', yanchor:'middle',
    font:{family:mono, size:11, color:'#111'}}, o||{}));
}
// header
note(17, 8, '<b>$GOLD</b> <span style="font-size:11px">Gold - Spot (EOD)</span> <span style="font-size:10px">CME</span>', {font:{family:narrow, size:15, color:'#111'}});
note(17, 22, '6-Oct-1982', {font:{family:narrow, size:11, color:'#111'}});
note(1360, 8, '© StockCharts.com', {xanchor:'right', font:{family:narrow, size:12, color:'#555'}});
note(1360, 21, '<b>Open</b> 387.50  <b>High</b> 404.00  <b>Low</b> 387.50  <b>Close</b> 404.00  <b>Chg</b> +2.00 (+0.50%) <span style="color:#2d9a2d;font-size:8px">▲</span>', {xanchor:'right', font:{family:narrow, size:12, color:'#111'}});
// first month label at the left edge (Sep 1977), under main and bottom panels
note(19, 883, 'Sep', {xanchor:'center', font:{family:narrow, size:11, color:'#111'}});
note(19, 1200, 'Sep', {xanchor:'center', font:{family:narrow, size:11, color:'#111'}});
// panel legends
note(19, 35, '<span style="color:#4a5c8c">◭</span>RSI(14) 55.88');
note(19, 157, '<b>━</b> ADX(14) 25.09 <span style="color:#1f7a3e">+DI 43.60</span> <span style="color:#ff2020">-DI 33.17</span>');
note(19, 278, '₩ $GOLD (Weekly) 404.00 (6 Oct)');
note(19, 289, '<span style="color:#1010c0">━ BB(20,2.0) 267.47 - 367.58 - 467.68</span>', {font:{family:mono, size:10, color:'#1010c0'}});
note(19, 898, '<b>━</b> PPO(12,26,9) 4.785, <span style="color:#3b22d0">2.822</span>, <span style="color:#3c8fd6">1.963</span>');
note(19, 1080, '<b>━</b> Slow STO %K(60) %D(3) 62.73, <span style="color:#ff1010">70.33</span>');
// title and callout boxes
note(534, 104, '<b>Gold 1980`s Blow Off Highs</b>', {yanchor:'top', bgcolor:'#ffffff', bordercolor:'#9a9a9a', borderwidth:1, borderpad:3,
  width:318, height:25, font:{family:'Liberation Sans, Arial', size:24, color:'#0a0aee'}});
note(843, 207, '<b>retraced 61.8% after<br>blow off highs</b>', {yanchor:'top', align:'left', bgcolor:'#ffffff', bordercolor:'#9a9a9a', borderwidth:1, borderpad:4,
  width:155, height:37, font:{family:'Liberation Sans, Arial', size:15, color:'#0a0aee'}});
// wave letters
[['a',720,325],['b',752,422],['c',773,311]].forEach(([t,x,y])=>note(x, y, '<b>'+t+'</b>', {xanchor:'center', font:{family:'Liberation Sans, Arial', size:14, color:'#1414e0'}}));
// fib labels
fibLevels.forEach((v,i)=>A.push({xref:'x3', yref:'y3', x:fibSpan[1], y:Math.log10(v), text:fibNames[i]+': '+v.toFixed(2), showarrow:false,
  xanchor:'right', yanchor:'bottom', yshift:1, font:{family:'Liberation Sans, Arial', size:12, color:'#8c8c8c'}}));
// swing price labels
priceLabels.forEach(([w,v,k])=>A.push({xref:'x3', yref:'y3', x:wd(w), y:Math.log10(v), text:v.toFixed(2), showarrow:true,
  arrowhead:0, arrowwidth:1, arrowcolor:'#9dbcc2', ax:0, ay: k==='h' ? -14 : 14, standoff:0,
  font:{family:mono, size:10, color:'#111'}, bgcolor:'#d8ebeb', bordercolor:'#9dbcc2', borderwidth:1, borderpad:1}));

Plotly.newPlot('chart', data, layout, {staticPlot:true, displayModeBar:false});
</script>
</body></html>
